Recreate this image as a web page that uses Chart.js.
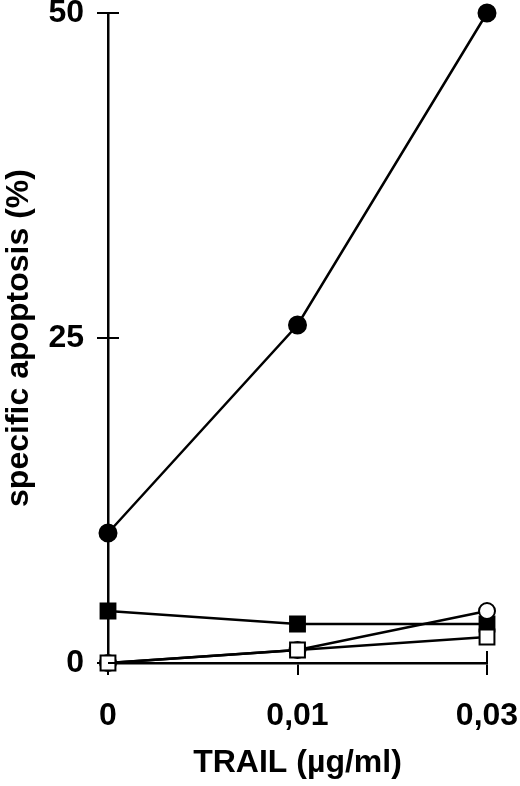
<!DOCTYPE html>
<html lang="en">
<head>
  <meta charset="UTF-8">
  <title>TRAIL specific apoptosis</title>
  <script src="https://cdn.jsdelivr.net/npm/chart.js@4.4.1/dist/chart.umd.min.js"></script>
  <style>
    html, body {
      margin: 0;
      padding: 0;
      background: #fff;
    }
    .wrap {
      width: 520px;
      height: 786px;
    }
  </style>
</head>
<body>
  <div class="wrap">
    <canvas id="apoChart" width="520" height="786"></canvas>
  </div>
  <script>
    // TRAIL doses (evenly spaced on the original plot)
    const doses = ['0', '0,01', '0,03'];
    const yTicks = [0, 25, 50];

    // specific apoptosis (%) per series
    const filledCircle = [10, 26, 50];
    const filledSquare = [4, 3, 3];
    const openCircle = [0, 1, 4];
    const openSquare = [0, 1, 2];

    const font = { family: '"Liberation Sans", Arial, sans-serif', size: 32, weight: 'bold' };

    function series(data, style, fill, radius) {
      return {
        data: data,
        borderColor: '#000',
        borderWidth: 2.5,
        pointStyle: style,
        pointRadius: radius,
        pointHoverRadius: radius,
        pointBackgroundColor: fill,
        pointBorderColor: '#000',
        pointBorderWidth: 2,
        tension: 0,
        clip: false
      };
    }

    // extra tick stubs: y ticks cross the axis, last x tick goes up too
    const crossTicks = {
      id: 'crossTicks',
      afterDatasetsDraw(chart) {
        const ctx = chart.ctx;
        const xs = chart.scales.x;
        const ys = chart.scales.y;
        ctx.save();
        ctx.strokeStyle = '#000';
        ctx.lineWidth = 2;
        ctx.beginPath();
        yTicks.forEach(function(v) {
          const py = ys.getPixelForValue(v);
          ctx.moveTo(xs.left, py);
          ctx.lineTo(xs.left + 11, py);
        });
        const lx = xs.getPixelForValue(doses.length - 1);
        ctx.moveTo(lx, xs.top);
        ctx.lineTo(lx, xs.top - 12);
        ctx.stroke();
        ctx.restore();
      }
    };

    new Chart(document.getElementById('apoChart'), {
      type: 'line',
      data: {
        labels: doses,
        datasets: [
          series(openSquare, 'rect', '#fff', 10.5),
          series(openCircle, 'circle', '#fff', 8),
          series(filledSquare, 'rect', '#000', 10.5),
          series(filledCircle, 'circle', '#000', 8.5)
        ]
      },
      options: {
        responsive: false,
        animation: false,
        events: [],
        layout: { padding: { top: 13, right: 33, left: 0, bottom: 0 } },
        plugins: {
          legend: { display: false },
          tooltip: { enabled: false }
        },
        scales: {
          x: {
            type: 'category',
            offset: false,
            afterFit(scale) {
              scale.height = 123;
              scale.paddingLeft = 0;
              scale.paddingRight = 0;
            },
            border: { display: true, color: '#000', width: 2.5 },
            grid: { drawOnChartArea: false, drawTicks: true, tickLength: 12, color: '#000', lineWidth: 2 },
            ticks: { color: '#000', font: font, padding: 22, maxRotation: 0, autoSkip: false },
            title: { display: true, text: 'TRAIL (µg/ml)', color: '#000', font: font, padding: { top: 0, bottom: 4 } }
          },
          y: {
            min: 0,
            max: 50,
            afterFit(scale) {
              scale.width = 108;
              scale.paddingTop = 0;
              scale.paddingBottom = 0;
            },
            afterBuildTicks(scale) { scale.ticks = yTicks.map(function(v) { return { value: v }; }); },
            border: { display: true, color: '#000', width: 2.5 },
            grid: { drawOnChartArea: false, drawTicks: true, tickLength: 11, color: '#000', lineWidth: 2 },
            ticks: { color: '#000', font: font, padding: 13 },
            title: { display: true, text: 'specific apoptosis (%)', color: '#000', font: font, padding: { top: 0, bottom: 0 } }
          }
        }
      },
      plugins: [crossTicks]
    });
  </script>
</body>
</html>
